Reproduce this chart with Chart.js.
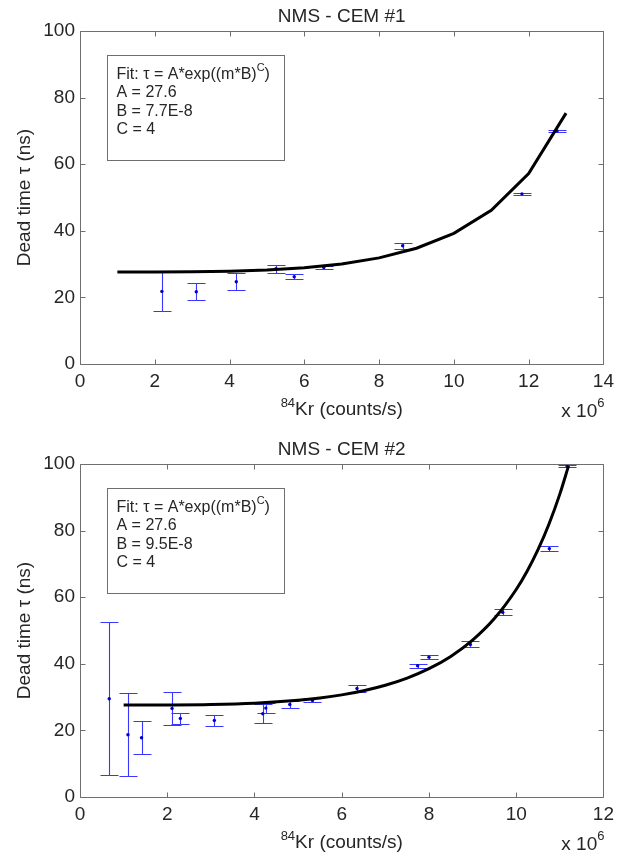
<!DOCTYPE html>
<html>
<head>
<meta charset="utf-8">
<script src="https://cdn.jsdelivr.net/npm/chart.js@4/dist/chart.umd.min.js"></script>
<style>
  html, body { margin: 0; padding: 0; background: #fff; }
  #fig { position: relative; width: 620px; height: 858px; }
  #fig canvas { position: absolute; left: 0; }
</style>
</head>
<body>
<div id="fig">
  <canvas id="cem1" width="620" height="430" style="top:0;width:620px;height:430px"></canvas>
  <canvas id="cem2" width="620" height="428" style="top:430px;width:620px;height:428px"></canvas>
</div>
<script>
// ---- CEM #1: measured dead time vs 84Kr count rate (rate in 1e6 counts/s, tau in ns)
const rate1 = [2.19, 3.11, 4.18, 5.24, 5.73, 6.52, 8.63, 11.82, 12.76];
const tau1  = [21.8, 21.7, 24.7, 28.6, 26.2, 29.0, 35.5, 51.1, 70.0];
const err1  = [5.8, 2.6, 2.5, 1.25, 0.8, 0.5, 0.85, 0.3, 0.3];
// fitted curve for CEM #1, sampled at each 1e6 counts/s
const fitRate1 = [1, 2, 3, 4, 5, 6, 7, 8, 9, 10, 11, 12, 13];
const fitTau1  = [27.60, 27.62, 27.68, 27.85, 28.21, 28.89, 30.03, 31.87, 34.76, 39.23, 46.18, 57.21, 75.33];
const fitText1 = ['A = 27.6', 'B = 7.7E-8', 'C = 4'];

// ---- CEM #2
const rate2 = [0.67, 1.10, 1.41, 2.11, 2.30, 3.08, 4.19, 4.26, 4.81, 5.33, 6.35, 7.74, 8.00, 8.95, 9.69, 10.76, 11.17];
const tau2  = [29.5, 18.7, 17.8, 26.6, 23.6, 23.0, 25.0, 26.7, 27.8, 29.0, 32.6, 39.4, 42.0, 45.8, 55.5, 74.6, 99.3];
const err2  = [23.0, 12.5, 5.0, 5.0, 1.75, 1.75, 2.8, 1.4, 1.1, 0.6, 1.0, 0.6, 0.7, 0.9, 0.85, 0.75, 0.3];
const fitRate2 = [1, 2, 3, 4, 5, 5.5, 6, 6.5, 7, 7.5, 8, 8.5, 9, 9.5, 10, 10.25, 10.5, 10.75, 11, 11.2];
const fitTau2  = [27.60, 27.64, 27.78, 28.18, 29.04, 29.74, 30.67, 31.92, 33.56, 35.71, 38.53, 42.22, 47.10, 53.58, 62.32, 67.82, 74.28, 81.91, 90.95, 99.43];
const fitText2 = ['A = 27.6', 'B = 9.5E-8', 'C = 4'];

// ---- axis ticks
const tauTicks = [0, 20, 40, 60, 80, 100];
const rateMax1 = 14, rateMax2 = 12, rateStep = 2;

const FONT = '"Liberation Sans", Arial, Helvetica, sans-serif';
const INK = '#262626';
const FRAME = '#6f6f6f';
const BLUE = 'rgb(55,55,255)';

// draw a run of text pieces (some raised as superscripts)
function drawRuns(ctx, runs, x, y, align) {
  let total = 0;
  runs.forEach(r => { ctx.font = r.size + 'px ' + FONT; r.w = ctx.measureText(r.t).width; total += r.w; });
  let cx = align === 'center' ? x - total / 2 : align === 'right' ? x - total : x;
  ctx.textAlign = 'left';
  ctx.textBaseline = 'middle';
  runs.forEach(r => {
    ctx.font = r.size + 'px ' + FONT;
    ctx.fillText(r.t, cx, y + (r.dy || 0));
    cx += r.w;
  });
}

// vertical error bars with caps, positioned through the chart scales
const errorBars = {
  id: 'errorBars',
  beforeDatasetsDraw(chart, args, opts) {
    const { ctx, scales: { x, y } } = chart;
    const pts = chart.data.datasets[1].data;
    ctx.save();
    ctx.strokeStyle = BLUE;
    ctx.lineWidth = 1.1;
    ctx.beginPath();
    pts.forEach((p, i) => {
      const e = opts.err[i];
      const px = Math.round(x.getPixelForValue(p.x)) + 0.5;
      const yt = Math.round(y.getPixelForValue(p.y + e)) + 0.5;
      const yb = Math.round(y.getPixelForValue(p.y - e)) + 0.5;
      ctx.moveTo(px, yt); ctx.lineTo(px, yb);
      ctx.moveTo(px - 9, yt); ctx.lineTo(px + 9, yt);
      ctx.moveTo(px - 9, yb); ctx.lineTo(px + 9, yb);
    });
    ctx.stroke();
    ctx.restore();
  }
};

// axes box with inward ticks, titles and the fit annotation
const frame = {
  id: 'frame',
  afterDraw(chart, args, opts) {
    const { ctx, chartArea: a, scales: { x, y } } = chart;
    const L = a.left + 0.5, R = Math.round(a.right) + 0.5, T = a.top + 0.5, B = Math.round(a.bottom) + 0.5;
    ctx.save();
    ctx.strokeStyle = FRAME;
    ctx.lineWidth = 1;
    ctx.beginPath();
    ctx.rect(L, T, R - L, B - T);
    x.ticks.forEach(t => {
      const px = Math.round(x.getPixelForValue(t.value)) + 0.5;
      ctx.moveTo(px, B); ctx.lineTo(px, B - 5);
      ctx.moveTo(px, T); ctx.lineTo(px, T + 5);
    });
    y.ticks.forEach(t => {
      const py = Math.round(y.getPixelForValue(t.value)) + 0.5;
      ctx.moveTo(L, py); ctx.lineTo(L + 5, py);
      ctx.moveTo(R, py); ctx.lineTo(R - 5, py);
    });
    ctx.stroke();

    const cx = (a.left + a.right) / 2;
    ctx.fillStyle = INK;
    // title
    drawRuns(ctx, [{ t: opts.title, size: 19 }], cx, a.top - 14, 'center');
    // x-axis title
    drawRuns(ctx, [{ t: '84', size: 13, dy: -7 }, { t: 'Kr (counts/s)', size: 19 }], cx, a.bottom + 46, 'center');
    // exponent note
    drawRuns(ctx, [{ t: 'x 10', size: 19 }, { t: '6', size: 13, dy: -9 }], a.right + 1, a.bottom + 48, 'right');
    // y-axis title
    ctx.save();
    ctx.translate(25, (a.top + a.bottom) / 2);
    ctx.rotate(-Math.PI / 2);
    drawRuns(ctx, [{ t: 'Dead time \u03C4 (ns)', size: 19 }], 0, 0, 'center');
    ctx.restore();

    // fit annotation box
    const bx = Math.round(a.left + 27) + 0.5, by = Math.round(a.top + 24) + 0.5;
    ctx.fillStyle = '#fff';
    ctx.fillRect(bx, by, 177, 105);
    ctx.strokeStyle = FRAME;
    ctx.strokeRect(bx, by, 177, 105);
    ctx.fillStyle = INK;
    const tx = bx + 9, ty = by + 19;
    drawRuns(ctx, [{ t: 'Fit: \u03C4 = A*exp((m*B)', size: 16 }, { t: 'C', size: 11, dy: -7 }, { t: ')', size: 16 }], tx, ty, 'left');
    opts.lines.forEach((s, i) => drawRuns(ctx, [{ t: s, size: 16 }], tx, ty + 18.3 * (i + 1), 'left'));
    ctx.restore();
  }
};

function makeChart(id, cfg) {
  const fit = cfg.fitRate.map((m, i) => ({ x: m, y: cfg.fitTau[i] }));
  const pts = cfg.rate.map((m, i) => ({ x: m, y: cfg.tau[i] }));
  return new Chart(document.getElementById(id), {
    type: 'scatter',
    data: {
      datasets: [
        {
          data: fit, showLine: true, pointRadius: 0, borderColor: '#000', borderWidth: 3,
          tension: cfg.smooth ? 0.4 : 0, cubicInterpolationMode: cfg.smooth ? 'monotone' : 'default'
        },
        { data: pts, pointRadius: 1.7, pointBackgroundColor: '#0000c8', pointBorderWidth: 0, borderColor: '#0000c8' }
      ]
    },
    options: {
      responsive: false,
      animation: false,
      events: [],
      layout: { padding: { top: cfg.top, right: 15, left: 0, bottom: 0 } },
      plugins: {
        legend: { display: false },
        tooltip: { enabled: false },
        errorBars: { err: cfg.err },
        frame: { title: cfg.title, lines: cfg.lines }
      },
      scales: {
        x: {
          type: 'linear', min: 0, max: cfg.xmax,
          grid: { display: false, drawTicks: false }, border: { display: false },
          ticks: { stepSize: rateStep, padding: 6, color: INK, font: { family: FONT, size: 19 } },
          afterFit: s => { s.height = cfg.xh; }
        },
        y: {
          type: 'linear', min: tauTicks[0], max: tauTicks[tauTicks.length - 1],
          grid: { display: false, drawTicks: false }, border: { display: false },
          afterBuildTicks: s => { s.ticks = tauTicks.map(v => ({ value: v })); },
          ticks: { padding: 5, color: INK, font: { family: FONT, size: 19 } },
          afterFit: s => { s.width = 80; }
        }
      }
    },
    plugins: [errorBars, frame]
  });
}

makeChart('cem1', {
  rate: rate1, tau: tau1, err: err1, fitRate: fitRate1, fitTau: fitTau1,
  lines: fitText1, title: 'NMS - CEM #1', xmax: rateMax1, top: 31, xh: 66, smooth: false
});
makeChart('cem2', {
  rate: rate2, tau: tau2, err: err2, fitRate: fitRate2, fitTau: fitTau2,
  lines: fitText2, title: 'NMS - CEM #2', xmax: rateMax2, top: 34, xh: 61, smooth: true
});
</script>
</body>
</html>
